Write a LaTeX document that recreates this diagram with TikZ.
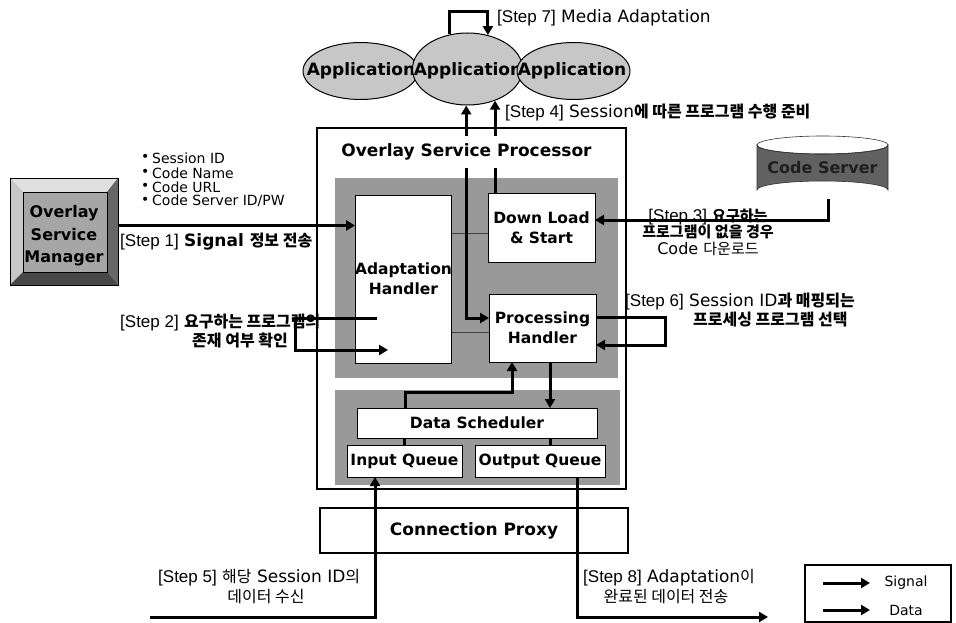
\documentclass[tikz,border=0pt]{standalone}
\usepackage{fontspec}
\setmainfont{DejaVu Sans}
\newfontfamily\tagf{Liberation Sans}
\newfontfamily\kr{Noto Sans CJK KR}[Scale=0.94]
\usetikzlibrary{arrows.meta,calc,shapes.geometric}
\newcommand\krt[1]{{\kr #1}}
\newcommand\stp[1]{{\tagf\fontsize{17}{19}\selectfont [Step #1]}}
\begin{document}
\begin{tikzpicture}[x=1pt,y=-1pt,
  box/.style={draw, line width=1pt, fill=white, inner sep=0pt, outer sep=0pt, align=center,
     font=\bfseries\fontsize{15.5}{20}\selectfont},
  shade/.style={fill=black!40, inner sep=0pt, outer sep=0pt},
  app/.style={ellipse, draw, line width=1pt, fill=black!22, inner sep=0pt},
  apptxt/.style={inner sep=0pt, font=\bfseries\fontsize{17}{20}\selectfont},
  sig/.style={line width=3pt, -{Triangle[length=9pt,width=10pt]}},
  both/.style={line width=3pt, {Triangle[length=9pt,width=10pt]}-{Triangle[length=9pt,width=10pt]}},
  lk/.style={line width=3pt},
  lbl/.style={inner sep=0pt, font=\fontsize{17}{19}\selectfont},
  bul/.style={inner sep=0pt, anchor=west, font=\fontsize{14}{15}\selectfont},
]
\useasboundingbox (0,0) rectangle (956,623);

% ---------- Overlay Service Processor ----------
\node[draw, line width=1.6pt, minimum width=309pt, minimum height=361pt, inner sep=0pt, outer sep=0pt] (osp) at (471.5,308.5) {};
\node[shade, minimum width=283pt, minimum height=200pt] (shu) at (476.5,278) {};
\node[shade, minimum width=285pt, minimum height=95pt] (shl) at (477.5,437.5) {};
\coordinate (g1a) at (450,233); \coordinate (g1b) at (488,233);
\coordinate (g2a) at (450,332); \coordinate (g2b) at (489,332);
\draw[black!75, line width=0.7pt] (g1a) -- (g1b);
\draw[black!75, line width=0.7pt] (g2a) -- (g2b);

\node[box, minimum width=93pt, minimum height=168pt] (ah) at (403.5,279) {Adaptation\\Handler};
\node[box, minimum width=107pt, minimum height=69pt] (dl) at (541.5,227.5) {Down Load\\\& Start};
\node[box, minimum width=107pt, minimum height=68pt] (ph) at (542.5,328) {Processing\\Handler};
\node[box, minimum width=240pt, minimum height=30pt] (ds) at (477,423) {Data Scheduler};
\node[box, minimum width=115pt, minimum height=32pt] (iq) at (404.5,461) {Input Queue};
\node[box, minimum width=130pt, minimum height=32pt] (oq) at (540,461) {Output Queue};
\node[box, line width=1.6pt, minimum width=308pt, minimum height=45pt,
      font=\bfseries\fontsize{17}{20}\selectfont] (cp) at (474,530.5) {Connection Proxy};

% ---------- Applications ----------
\node[app, minimum width=115pt, minimum height=57pt] (app1) at (360.5,71) {};
\node[apptxt] (app1t) at (361,71) {Application};
\node[app, minimum width=110pt, minimum height=72pt] (app2) at (467.5,69) {};
\node[apptxt] (app2t) at (468,71) {Application};
\node[app, minimum width=113pt, minimum height=57pt] (app3) at (573.5,71) {};
\node[apptxt] (app3t) at (572,71) {Application};

% ---------- Overlay Service Manager ----------
\node[fill=black!35, minimum width=108pt, minimum height=107pt, inner sep=0pt, outer sep=0pt] (osm) at (64,231.5) {};
\coordinate (i1) at ($(osm.north west)+(13,14)$);
\coordinate (i2) at ($(osm.north east)+(-11,14)$);
\coordinate (i3) at ($(osm.south east)+(-11,-13)$);
\coordinate (i4) at ($(osm.south west)+(13,-13)$);
\fill[black!12] (osm.north west) -- (osm.north east) -- (i2) -- (i1) -- cycle;
\fill[black!22] (osm.north west) -- (i1) -- (i4) -- (osm.south west) -- cycle;
\fill[black!60] (osm.north east) -- (osm.south east) -- (i3) -- (i2) -- cycle;
\fill[black!72] (osm.south west) -- (osm.south east) -- (i3) -- (i4) -- cycle;
\draw[line width=0.6pt] (i1) rectangle (i3);
\draw[line width=0.8pt] (osm.north west) rectangle (osm.south east);
\node[inner sep=0pt, align=center, font=\bfseries\fontsize{16}{22.5}\selectfont] (osmt) at (64,236) {Overlay\\Service\\Manager};

% ---------- Code Server ----------
\path[fill=black!62, draw=black!80, line width=0.6pt] (757,145) -- (757,190)
   arc[start angle=180, end angle=360, x radius=65.5, y radius=9] -- (888,145)
   arc[start angle=0, end angle=180, x radius=65.5, y radius=9] -- cycle;
\draw[black!80, line width=0.6pt] (822.5,145) ellipse [x radius=65.5, y radius=9];
\node[inner sep=0pt, text=black!88, font=\bfseries\fontsize{16}{19}\selectfont] (cs) at (822.5,168) {Code Server};
\coordinate (csb) at (828,199);

% ---------- connectors ----------
% Step 7 loop
\coordinate (s7top) at (470,12);
\draw[sig] (app2.117) |- (s7top) -| (app2.59);
% Step 4
\coordinate (phw) at ([yshift=10pt]ph.west);
\draw[both] (app2.268 |- app2.south) ++(0,0) coordinate (s4a) -- (s4a |- phw) -- (phw);
\draw[sig] (dl.north -| app2.-49) -- (app2.-49);
% Step 1
\draw[sig] ([yshift=6pt]osm.east) -- ([yshift=6pt]osm.east -| ah.west);
% Step 2
\coordinate (s2a) at (377,318);
\coordinate (s2b) at (388,350);
\coordinate (s2c) at (295,330);
\draw[sig] (s2a) -- (s2c |- s2a) |- (s2b);
% Step 3
\draw[sig] (csb) |- ([yshift=7.5pt]dl.east);
% Step 6
\coordinate (s6x) at (665,330);
\draw[sig] ([yshift=11pt]ph.east) -| (s6x) |- ([yshift=-17pt]ph.east);
% Data scheduler <-> processing handler
\coordinate (j1) at (460,392);
\draw[sig] ([xshift=-72pt]ds.north) |- (j1) -| ([xshift=-30.5pt]ph.south);
\draw[sig] ([xshift=7.5pt]ph.south) -- ([xshift=7.5pt]ph.south |- ds.north);
\draw[lk] (iq.north) -- (iq.north |- ds.south);
\draw[lk] ([xshift=10pt]oq.north) -- ([xshift=10pt]oq.north |- ds.south);
% Step 5 and Step 8
\coordinate (s5s) at (150,617);
\coordinate (s8e) at (768,617);
\draw[sig] (s5s) -| ([xshift=-29.5pt]iq.south);
\draw[sig] ([xshift=37pt]oq.south) |- (s8e);

% OSP title (covers the Step 4 lines)
\node[fill=white, inner xsep=4pt, inner ysep=8pt, font=\bfseries\fontsize{17}{20}\selectfont] (ospt) at (466.5,152) {Overlay Service Processor};

% ---------- labels ----------
\node[lbl, anchor=west] (l7) at (497,18) {\stp{7} Media Adaptation};
\node[lbl, anchor=west] (l4) at (505,113) {\stp{4} Session\krt{\textbf{에 따른 프로그램 수행 준비}}};
\node[lbl, anchor=west] (l1) at (120,242) {\stp{1} \textbf{Signal \krt{정보 전송}}};
\node[lbl, anchor=west] (l2a) at (120,323) {\stp{2} \krt{\textbf{요구하는 프로그램의}}};
\node[lbl] (l2b) at (240,340) {\krt{\textbf{존재 여부 확인}}};
\node[lbl, align=center, font=\fontsize{16}{16.5}\selectfont] (l3) at (708,232) {\stp{3} \krt{\textbf{요구하는}}\\\krt{\textbf{프로그램이 없을 경우}}\\Code \krt{다운로드}};
\node[lbl, anchor=west] (l6a) at (625,302) {\stp{6} Session ID\krt{\textbf{과 매핑되는}}};
\node[lbl, anchor=west] (l6b) at (693,320) {\krt{\textbf{프로세싱 프로그램 선택}}};
\node[lbl, anchor=west] (l5a) at (158,578) {\stp{5} \krt{해당} Session ID\krt{의}};
\node[lbl] (l5b) at (266,597) {\krt{데이터 수신}};
\node[lbl, anchor=west] (l8a) at (583,578) {\stp{8} Adaptation\krt{이}};
\node[lbl] (l8b) at (666,597) {\krt{완료된 데이터 전송}};

% bullets
\node[bul] (b1d) at (141,158) {•}; \node[bul] (b1) at (152,158) {Session ID};
\node[bul] (b2d) at (141,173) {•}; \node[bul] (b2) at (152,173) {Code Name};
\node[bul] (b3d) at (141,187) {•}; \node[bul] (b3) at (152,187) {Code URL};
\node[bul] (b4d) at (141,201) {•}; \node[bul] (b4) at (152,201) {Code Server ID/PW};

% ---------- legend ----------
\node[draw, line width=1.2pt, minimum width=146pt, minimum height=57pt, inner sep=0pt, outer sep=0pt] (leg) at (878,593.5) {};
\coordinate (la1) at (823,583); \coordinate (lb1) at (870,583);
\coordinate (la2) at (823,610); \coordinate (lb2) at (870,610);
\draw[sig] (la1) -- (lb1);
\draw[sig] (la2) -- (lb2);
\node[lbl, font=\fontsize{14}{17}\selectfont] (lt1) at (906,583) {Signal};
\node[lbl, font=\fontsize{14}{17}\selectfont] (lt2) at (906,610) {Data};
\end{tikzpicture}
\end{document}
